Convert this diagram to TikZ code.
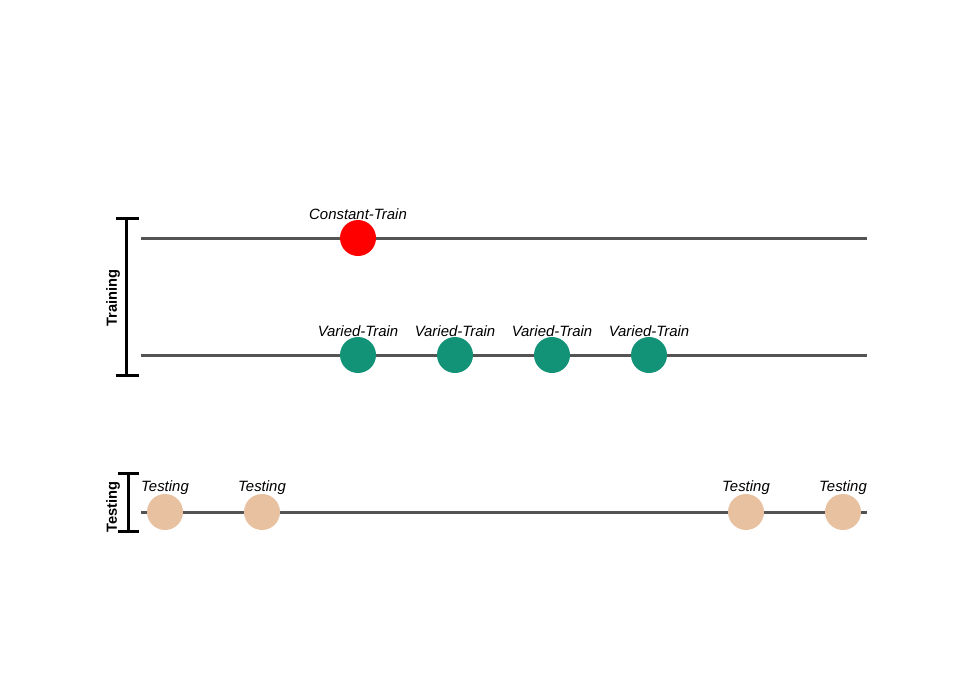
\documentclass[tikz,border=0pt]{standalone}
\usepackage{fontspec}
\setmainfont{Liberation Sans}
\begin{document}
\begin{tikzpicture}[x=0.75pt,y=-0.75pt,
  track/.style={draw=black!67, line width=2.25pt},
  dot/.style={circle, minimum size=27pt, inner sep=0pt},
  lbl/.style={font=\fontsize{11.2}{13}\selectfont\itshape, inner sep=0pt},
  brace/.style={draw=black, line width=2.25pt},
  side/.style={font=\fontsize{11}{13}\selectfont\bfseries, rotate=90, inner sep=0pt}]
\definecolor{trainred}{HTML}{FF0000}
\definecolor{variedgreen}{HTML}{129377}
\definecolor{testtan}{HTML}{E8C1A0}
\useasboundingbox (0,0) rectangle (960,672);

% horizontal tracks
\coordinate (c1) at (141,238); \coordinate (c2) at (867,238);
\coordinate (v1) at (141,355); \coordinate (v2) at (867,355);
\coordinate (t1) at (141,512); \coordinate (t2) at (867,512);
\draw[track] (c1) -- (c2);
\draw[track] (v1) -- (v2);
\draw[track] (t1) -- (t2);

% constant training point
\node[dot, fill=trainred] (cons) at (358,238) {};
\node[lbl] at (358,214) {Constant-Train};

% varied training points
\foreach \x [count=\i] in {358,455,552,649} {
  \node[dot, fill=variedgreen] (var\i) at (\x,355) {};
  \node[lbl] at (\x,331) {Varied-Train};
}

% testing points
\foreach \x [count=\i] in {165,262,746,843} {
  \node[dot, fill=testtan] (test\i) at (\x,512) {};
  \node[lbl] at (\x,488) {Testing};
}

% training bracket
\coordinate (trtop) at (126,218); \coordinate (trbot) at (126,375);
\draw[brace] (trtop) -- (trbot);
\draw[brace] ([xshift=-7.5pt]trtop) -- ([xshift=9.75pt]trtop);
\draw[brace] ([xshift=-7.5pt]trbot) -- ([xshift=9.75pt]trbot);
\node[side] (trl) at (113,298) {Training};

% testing bracket
\coordinate (tstop) at (128,473); \coordinate (tsbot) at (128,531);
\draw[brace] (tstop) -- (tsbot);
\draw[brace] ([xshift=-7.5pt]tstop) -- ([xshift=8.25pt]tstop);
\draw[brace] ([xshift=-7.5pt]tsbot) -- ([xshift=8.25pt]tsbot);
\node[side] (tsl) at (113,507) {Testing};
\end{tikzpicture}
\end{document}
